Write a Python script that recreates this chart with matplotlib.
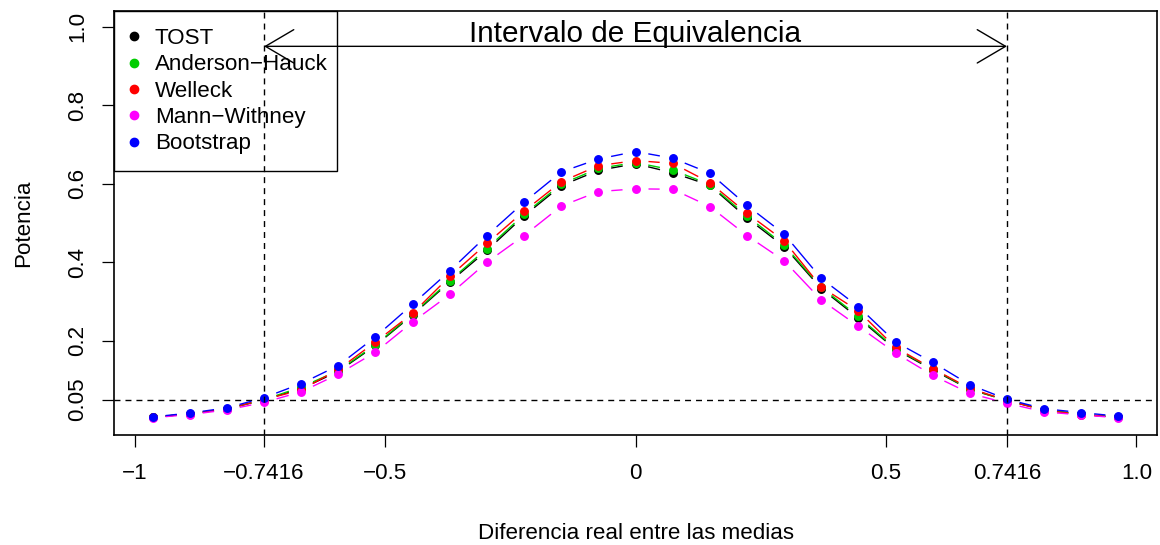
import numpy as np
import matplotlib
matplotlib.use('Agg')
import matplotlib.pyplot as plt
from matplotlib.lines import Line2D
from matplotlib.patches import FancyArrowPatch

plt.rcParams['font.family'] = ['Liberation Sans', 'DejaVu Sans']

# Equivalence margin and the grid of true mean differences (k * margin / 10)
margin = 0.7416
diffs = np.arange(-13, 14) * margin / 10

# Estimated power for each test
tost = [0.005, 0.014, 0.026, 0.050, 0.078, 0.122, 0.188, 0.266, 0.350, 0.430, 0.518, 0.595, 0.634, 0.651,
        0.628, 0.596, 0.513, 0.440, 0.333, 0.258, 0.178, 0.126, 0.076, 0.048, 0.024, 0.013, 0.005]
anderson_hauck = [0.005, 0.014, 0.026, 0.050, 0.082, 0.124, 0.190, 0.268, 0.353, 0.435, 0.522, 0.599, 0.639, 0.654,
                  0.635, 0.598, 0.518, 0.444, 0.336, 0.262, 0.180, 0.128, 0.077, 0.048, 0.024, 0.013, 0.005]
welleck = [0.005, 0.014, 0.027, 0.050, 0.075, 0.127, 0.197, 0.270, 0.364, 0.448, 0.530, 0.605, 0.646, 0.659,
           0.652, 0.603, 0.525, 0.455, 0.337, 0.276, 0.183, 0.129, 0.079, 0.048, 0.023, 0.012, 0.005]
mann_whitney = [0.004, 0.012, 0.024, 0.043, 0.070, 0.115, 0.171, 0.248, 0.318, 0.400, 0.468, 0.543, 0.580, 0.587,
                0.586, 0.542, 0.468, 0.404, 0.304, 0.237, 0.169, 0.112, 0.066, 0.041, 0.019, 0.011, 0.004]
bootstrap = [0.006, 0.016, 0.029, 0.055, 0.091, 0.137, 0.210, 0.293, 0.378, 0.468, 0.553, 0.630, 0.663, 0.682,
             0.665, 0.627, 0.545, 0.472, 0.359, 0.287, 0.197, 0.145, 0.088, 0.051, 0.027, 0.017, 0.008]

labels = ['TOST', 'Anderson\u2212Hauck', 'Welleck', 'Mann\u2212Withney', 'Bootstrap']
colors = ['black', '#00CD00', '#FF0000', '#FF00FF', '#0000FF']
series = [tost, anderson_hauck, welleck, mann_whitney, bootstrap]

xticks = [-1, -margin, -0.5, 0, 0.5, margin, 1.0]
xticklabels = ['\u22121', '\u22120.7416', '\u22120.5', '0', '0.5', '0.7416', '1.0']
yticks = [0.05, 0.2, 0.4, 0.6, 0.8, 1.0]
yticklabels = ['0.05', '0.2', '0.4', '0.6', '0.8', '1.0']

FS = 16.1
DASH = (0, (4.3, 3.6))


def gapped_lines(ax, x, y, color, gap=13):
    # type="b" style: segments stop short of each point by a fixed pixel gap
    pts = ax.transData.transform(np.column_stack([x, y]))
    inv = ax.transData.inverted()
    for p0, p1 in zip(pts[:-1], pts[1:]):
        d = p1 - p0
        length = np.hypot(*d)
        if length <= 2 * gap:
            continue
        u = d / length
        seg = inv.transform(np.array([p0 + u * gap, p1 - u * gap]))
        ax.plot(seg[:, 0], seg[:, 1], color=color, lw=1.0, solid_capstyle='butt', zorder=2)


fig = plt.figure(figsize=(11.6, 5.45), dpi=100)
ax = fig.add_axes([114 / 1160, 1 - 435 / 545, 1043 / 1160, 424 / 545])

xr = diffs.max() - diffs.min()
ax.set_xlim(diffs.min() - 0.04 * xr, diffs.max() + 0.04 * xr)
ax.set_ylim(-0.04, 1.04)

handles = []
for vals, col, lab in zip(series, colors, labels):
    gapped_lines(ax, diffs, vals, col)
    ax.plot(diffs, vals, linestyle='none', marker='o', ms=5.4, color=col, zorder=3)
    handles.append(Line2D([], [], linestyle='none', marker='o', ms=6, color=col, label=lab))

# legend sits underneath the reference lines and the arrow
leg = ax.legend(handles=handles, loc='upper left', bbox_to_anchor=(0, 0, 223 / 1043, 1),
                mode='expand', borderaxespad=0, fontsize=FS, frameon=True, fancybox=False,
                borderpad=0.76, labelspacing=0.24, handlelength=0.28, handletextpad=0.78,
                framealpha=1)
leg.get_frame().set_edgecolor('black')
leg.get_frame().set_linewidth(1.0)
leg.set_zorder(1)

# reference lines: equivalence limits and nominal level
for xv in (-margin, margin):
    ax.axvline(xv, color='black', lw=1.0, linestyle=DASH, zorder=4)
ax.axhline(0.05, color='black', lw=1.0, linestyle=DASH, zorder=1.5)

arrow = FancyArrowPatch((-margin, 0.95), (margin, 0.95),
                        arrowstyle='<->,head_length=20.4,head_width=12',
                        mutation_scale=1, shrinkA=0, shrinkB=0, color='black', lw=1.0, zorder=5)
ax.add_patch(arrow)
ax.text(0, 0.96, 'Intervalo de Equivalencia', ha='center', va='baseline', fontsize=21.4, zorder=5)

ax.set_xticks(xticks)
ax.set_xticklabels(xticklabels, fontsize=FS)
ax.set_yticks(yticks)
ax.set_yticklabels(yticklabels, fontsize=FS, rotation=90, va='center')
ax.tick_params(axis='both', direction='out', length=8.5, width=0.9, color='black')
ax.tick_params(axis='x', pad=11.5)
ax.tick_params(axis='y', pad=10)
for sp in ax.spines.values():
    sp.set_linewidth(1.2)
    sp.set_zorder(6)

ax.set_xlabel('Diferencia real entre las medias', fontsize=FS, labelpad=28)
ax.set_ylabel('Potencia', fontsize=FS, labelpad=24)

fig.savefig('out.png', dpi=100)
